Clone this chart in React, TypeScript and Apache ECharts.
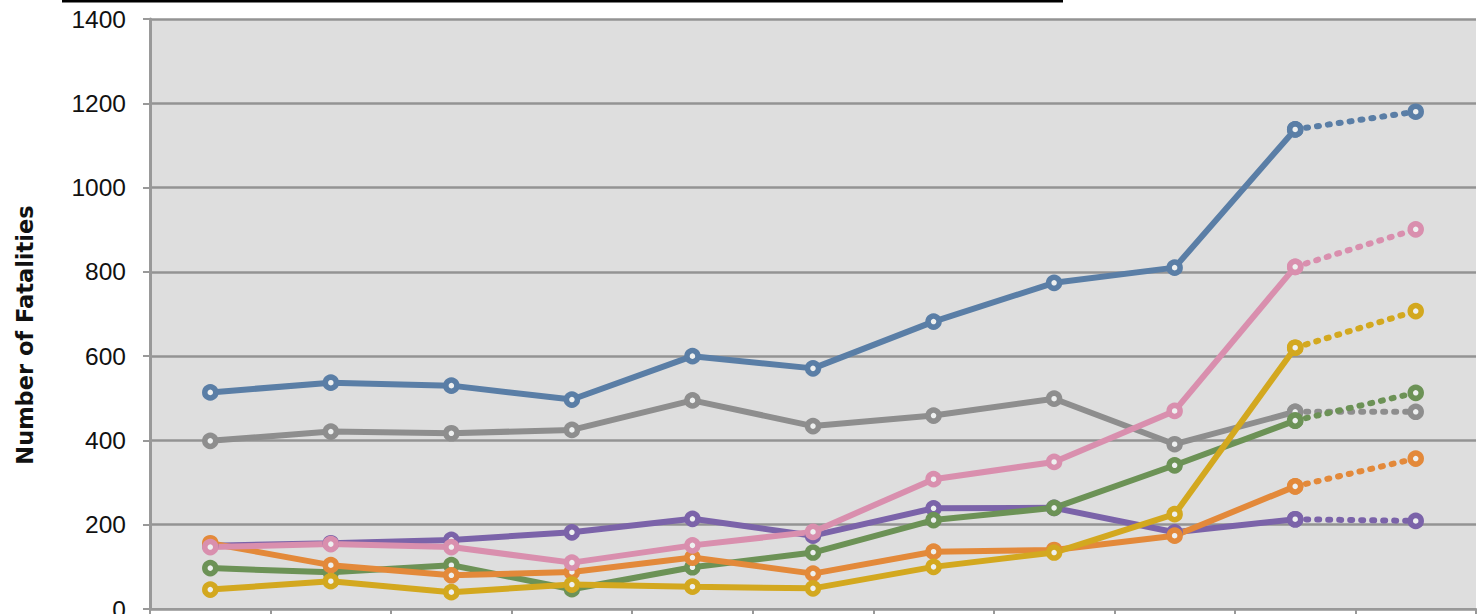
import React, { useEffect, useRef } from "react";
import * as echarts from "echarts";

const categories = ["1", "2", "3", "4", "5", "6", "7", "8", "9", "10", "11"];
const yTicks = [0, 200, 400, 600, 800, 1000, 1200, 1400];
const yAxisTitle = "Number of Fatalities";

const seriesNames = ["Blue", "Gray", "Pink", "Purple", "Green", "Orange", "Yellow"];
const blueValues = [514, 537, 530, 497, 600, 571, 682, 774, 810, 1138, 1180];
const grayValues = [399, 421, 417, 425, 495, 434, 459, 499, 391, 468, 468];
const pinkValues = [147, 154, 147, 110, 151, 183, 308, 349, 470, 812, 901];
const purpleValues = [150, 156, 164, 182, 214, 174, 239, 240, 182, 213, 209];
const greenValues = [97, 87, 104, 47, 99, 134, 211, 240, 341, 447, 513];
const orangeValues = [156, 104, 80, 88, 122, 84, 136, 140, 174, 291, 357];
const yellowValues = [46, 66, 40, 58, 53, 49, 100, 134, 225, 620, 707];

const colors = ["#5a7ea6", "#8e8e8e", "#d98fae", "#7b63a9", "#6c9256", "#e3893a", "#d3a81f"];

const allValues = [blueValues, grayValues, pinkValues, purpleValues, greenValues, orangeValues, yellowValues];

// draw order (bottom -> top)
const drawOrder = [1, 3, 4, 5, 6, 2, 0];

export default function App() {
  const ref = useRef<HTMLDivElement>(null);
  useEffect(() => {
    document.body.style.margin = "0";
    const chart = echarts.init(ref.current!, undefined, { renderer: "svg" });
    const series: any[] = [];
    const n = categories.length;
    drawOrder.forEach((i) => {
      const vals = allValues[i];
      const solid = vals.map((v, k) => (k <= n - 2 ? v : null));
      const dotted = vals.map((v, k) => (k >= n - 2 ? v : null));
      const common = {
        type: "line",
        symbol: "circle",
        symbolSize: 11,
        itemStyle: { color: "#eef0f0", borderColor: colors[i], borderWidth: 5.5 },
        z: 2,
      };
      series.push({
        ...common,
        name: seriesNames[i],
        data: solid,
        lineStyle: { color: colors[i], width: 6 },
      });
      series.push({
        ...common,
        name: seriesNames[i] + " (projected)",
        data: dotted,
        lineStyle: { color: colors[i], width: 6, type: [2, 9], cap: "round" },
      });
    });
    chart.setOption({
      animation: false,
      backgroundColor: "#ffffff",
      grid: {
        left: 150,
        right: 3,
        top: 19,
        bottom: 5,
        outerBoundsMode: "none",
        containLabel: false,
        show: true,
        backgroundColor: "#dedede",
        borderWidth: 0,
      },
      xAxis: {
        type: "category",
        data: categories,
        boundaryGap: true,
        axisLine: { lineStyle: { color: "#999999", width: 2 } },
        axisTick: { show: true, length: 6, lineStyle: { color: "#999999", width: 2 } },
        axisLabel: { show: false },
        splitLine: { show: false },
      },
      yAxis: {
        type: "value",
        min: yTicks[0],
        max: yTicks[yTicks.length - 1],
        interval: 200,
        axisLine: { show: true, lineStyle: { color: "#999999", width: 3 } },
        axisTick: { show: true, length: 7, lineStyle: { color: "#999999", width: 2 } },
        axisLabel: {
          fontFamily: "Liberation Sans",
          fontSize: 24.5,
          color: "#111111",
          margin: 24,
          verticalAlign: "middle",
          verticalAlignMinLabel: "middle",
          verticalAlignMaxLabel: "middle",
          formatter: (v: number) => String(v),
        },
        splitLine: { show: true, lineStyle: { color: "#939393", width: 2.5 } },
      },
      graphic: [
        {
          type: "rect",
          shape: { x: 62, y: 0, width: 1001, height: 2.5 },
          style: { fill: "#000000" },
        },
        {
          type: "text",
          x: 25,
          y: 335,
          rotation: Math.PI / 2,
          style: {
            text: yAxisTitle,
            fontFamily: "DejaVu Sans",
            fontWeight: "bold",
            fontSize: 22.5,
            fill: "#111111",
            align: "center",
            verticalAlign: "middle",
          },
        },
      ],
      series,
    });
    return () => chart.dispose();
  }, []);
  return <div ref={ref} style={{ width: 1479, height: 614 }} />;
}
